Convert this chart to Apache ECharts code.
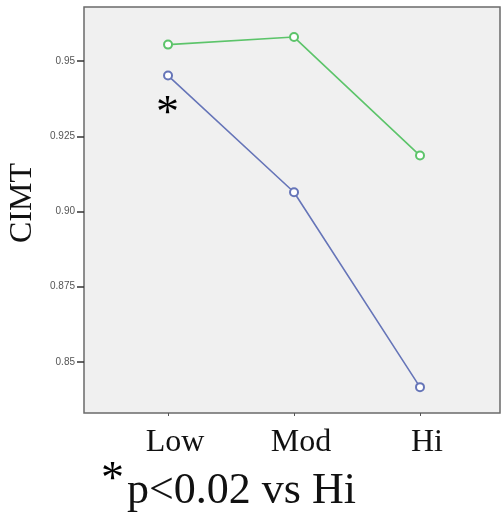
<!DOCTYPE html>
<html>
<head>
<meta charset="utf-8">
<script src="https://cdn.jsdelivr.net/npm/echarts@6/dist/echarts.min.js"></script>
<style>html,body{margin:0;padding:0;background:#fff;}#c{width:503px;height:523px;}</style>
</head>
<body>
<div id="c"></div>
<script>
var categories = ['Low', 'Mod', 'Hi'];
var greenValues = [0.9555, 0.958, 0.9186];
var blueValues = [0.9452, 0.9064, 0.8416];
var yTickValues = [0.85, 0.875, 0.90, 0.925, 0.95];
var yTickLabels = ['0.85', '0.875', '0.90', '0.925', '0.95'];
var catIndex = [0, 1, 2];

function pairs(vals) { return vals.map(function (v, i) { return [catIndex[i], v]; }); }

var chart = echarts.init(document.getElementById('c'));
chart.setOption({
  animation: false,
  backgroundColor: '#ffffff',
  grid: {
    left: 84, right: 3, top: 7, bottom: 110,
    outerBoundsMode: 'none', containLabel: false,
    show: true, backgroundColor: '#f0f0f0', borderColor: '#6a6a6a', borderWidth: 1.5
  },
  xAxis: {
    type: 'value', min: -0.667, max: 2.635,
    splitLine: { show: false },
    axisLine: { show: false, onZero: false },
    axisTick: { show: true, customValues: catIndex, length: 3, lineStyle: { color: '#555' } },
    axisLabel: {
      customValues: catIndex,
      formatter: function (v) { return categories[Math.round(v)]; },
      fontFamily: 'Liberation Serif', fontSize: 32, color: '#111', margin: 14,
      padding: [0, 0, 0, 14]
    }
  },
  yAxis: {
    type: 'value', min: 0.833, max: 0.968,
    name: 'CIMT', nameLocation: 'middle', nameGap: 42, nameRotate: 90,
    nameTextStyle: { fontFamily: 'Liberation Serif', fontSize: 32, color: '#111', padding: [0, 0, 0, 14] },
    splitLine: { show: false },
    axisLine: { show: false, onZero: false },
    axisTick: { show: true, customValues: yTickValues, length: 7, lineStyle: { color: '#333', width: 1.5 } },
    axisLabel: {
      customValues: yTickValues,
      formatter: function (v) {
        for (var i = 0; i < yTickValues.length; i++) { if (Math.abs(yTickValues[i] - v) < 1e-6) return yTickLabels[i]; }
        return '';
      },
      fontFamily: 'Liberation Sans', fontSize: 10, color: '#555', margin: 9
    }
  },
  series: [
    {
      type: 'line', data: pairs(greenValues), symbol: 'emptyCircle', symbolSize: 8,
      itemStyle: { color: '#5cc46a', borderWidth: 1.5 }, lineStyle: { color: '#5cc46a', width: 1.6 }
    },
    {
      type: 'line', data: pairs(blueValues), symbol: 'emptyCircle', symbolSize: 8,
      itemStyle: { color: '#6675b8', borderWidth: 1.5 }, lineStyle: { color: '#6675b8', width: 1.6 }
    }
  ],
  graphic: [
    { type: 'text', left: 156, top: 92, style: { text: '*', fontFamily: 'Liberation Serif', fontSize: 46, fill: '#000' } },
    { type: 'text', left: 101, top: 458, style: { text: '*', fontFamily: 'Liberation Serif', fontSize: 46, fill: '#000' } },
    { type: 'text', left: 127, top: 469, style: { text: 'p<0.02 vs Hi', fontFamily: 'Liberation Serif', fontSize: 44, fill: '#111' } }
  ]
});
</script>
</body>
</html>
